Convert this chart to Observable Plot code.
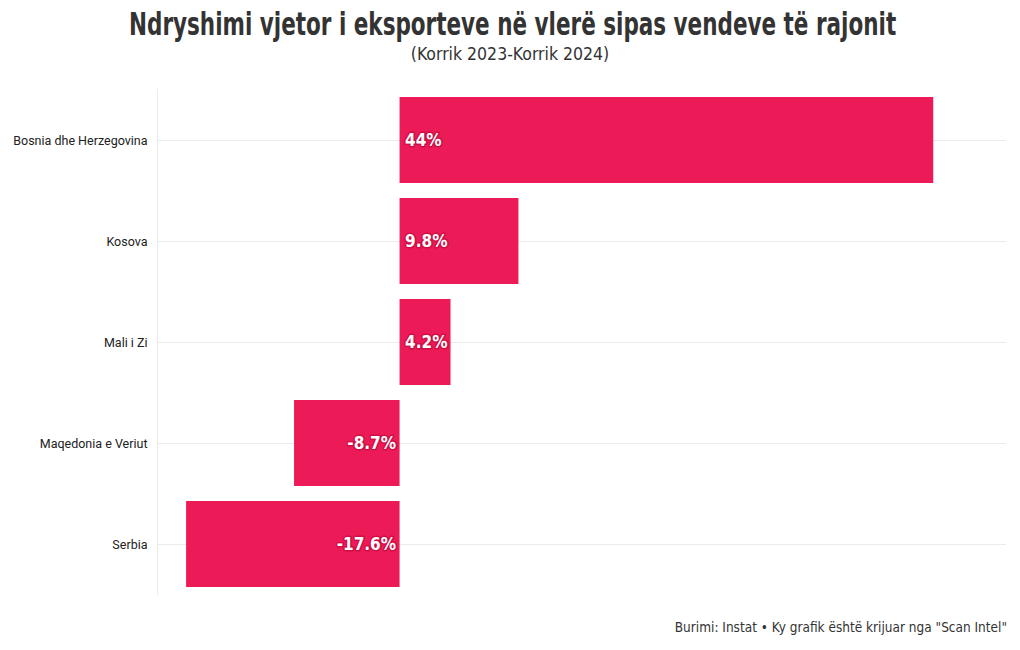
<!DOCTYPE html>
<html>
<head>
<meta charset="utf-8">
<script src="https://cdn.jsdelivr.net/npm/d3@7"></script>
<script src="https://cdn.jsdelivr.net/npm/@observablehq/plot@0.6"></script>
<style>
  html, body { margin: 0; padding: 0; background: #fff; }
  #wrap { position: relative; width: 1020px; height: 650px; overflow: hidden; }
  #title { position: absolute; top: 5px; left: 0; width: 1020px; text-align: center; white-space: nowrap;
    font-family: "DejaVu Sans Condensed", "DejaVu Sans", sans-serif; font-weight: bold;
    font-size: 32px; color: #333; transform: scaleX(0.747); transform-origin: 510px 0; }
  #subtitle { position: absolute; top: 44px; left: 0; width: 1020px; text-align: center; white-space: nowrap;
    font-family: "DejaVu Sans Condensed", "DejaVu Sans", sans-serif; font-size: 17.5px; color: #333; }
  #chart { position: absolute; top: 75px; left: 0; }
  #caption { position: absolute; top: 619px; right: 13px; white-space: nowrap;
    font-family: "DejaVu Sans Condensed", "DejaVu Sans", sans-serif; font-size: 13.5px; color: #333; }
</style>
</head>
<body>
<div id="wrap">
  <div id="title">Ndryshimi vjetor i eksporteve në vlerë sipas vendeve të rajonit</div>
  <div id="subtitle">(Korrik 2023-Korrik 2024)</div>
  <div id="chart"></div>
  <div id="caption">Burimi: Instat • Ky grafik është krijuar nga "Scan Intel"</div>
</div>
<script>
const countries = ["Bosnia dhe Herzegovina", "Kosova", "Mali i Zi", "Maqedonia e Veriut", "Serbia"];
const changes = [44, 9.8, 4.2, -8.7, -17.6];
const labels = ["44%", "9.8%", "4.2%", "-8.7%", "-17.6%"];

const data = countries.map((c, i) => ({country: c, value: changes[i], label: labels[i]}));
const pos = data.filter(d => d.value >= 0);
const neg = data.filter(d => d.value < 0);

const barColor = "#ec1a56";
const labelFont = "DejaVu Sans Condensed, DejaVu Sans, sans-serif";

const chart = Plot.plot({
  width: 1020,
  height: 535,
  marginLeft: 157,
  marginRight: 14,
  marginTop: 14,
  marginBottom: 15,
  style: { fontFamily: "Roboto, sans-serif", fontSize: "12.5px", color: "#222", background: "transparent" },
  x: { domain: [-20, 50], axis: null },
  y: { domain: countries, label: null, paddingInner: 0.15, paddingOuter: 0.075, axis: null },
  marks: [
    Plot.ruleY(countries, { y: d => d, stroke: "#ebebeb", strokeWidth: 1 }),
    Plot.ruleX([-20], { stroke: "#ebebeb", strokeWidth: 1 }),
    Plot.barX(data, { x1: 0, x2: "value", y: "country", fill: barColor }),
    Plot.text(pos, { x: 0, y: "country", text: "label", dx: 5, textAnchor: "start",
      fill: "white", stroke: "#a8002f", strokeWidth: 3, strokeOpacity: 0.45,
      fontSize: 17, fontWeight: "bold", fontFamily: labelFont }),
    Plot.text(neg, { x: 0, y: "country", text: "label", dx: -4, textAnchor: "end",
      fill: "white", stroke: "#a8002f", strokeWidth: 3, strokeOpacity: 0.45,
      fontSize: 17, fontWeight: "bold", fontFamily: labelFont }),
    Plot.axisY({ tickSize: 0, tickPadding: 10, label: null, fill: "#222", fontSize: 12.5 })
  ]
});
document.getElementById("chart").appendChild(chart);
</script>
</body>
</html>
